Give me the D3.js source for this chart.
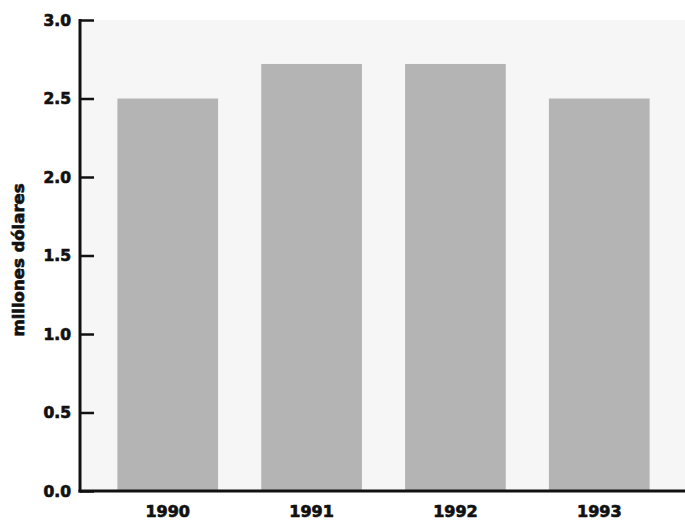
<!DOCTYPE html>
<html>
<head>
<meta charset="utf-8">
<script src="https://cdn.jsdelivr.net/npm/d3@7"></script>
<style>
  body { margin: 0; background: #fff; }
  svg { display: block; }
  text { font-family: "DejaVu Sans", Arial, sans-serif; font-weight: bold; fill: #111; stroke: #111; stroke-width: 0.7px; }
</style>
</head>
<body>
<svg width="685" height="525"></svg>
<script>
var years = ["1990", "1991", "1992", "1993"]
var valores = [2.5, 2.72, 2.72, 2.5]
var yTicks = [0, 0.5, 1.0, 1.5, 2.0, 2.5, 3.0]

var svg = d3.select("svg")
var mLeft = 80, mTop = 20, mBottom = 491, mRight = 687

// fondo gris claro del area
svg.append("rect")
  .attr("x", mLeft).attr("y", mTop)
  .attr("width", 685 - mLeft).attr("height", mBottom - mTop)
  .attr("fill", "#f6f6f6")

var x = d3.scaleBand().domain(years).range([mLeft, mRight])
  .paddingInner(0.3).paddingOuter(0.26)
var y = d3.scaleLinear().domain([0, 3]).range([mBottom, mTop])

svg.append("g").selectAll("rect").data(years)
  .enter().append("rect")
  .attr("x", d => x(d))
  .attr("width", x.bandwidth())
  .attr("y", (d, i) => y(valores[i]))
  .attr("height", (d, i) => mBottom - y(valores[i]))
  .attr("fill", "#b4b4b4")

// eje y
var yAxis = svg.append("g")
  .attr("transform", "translate(" + mLeft + ",0)")
  .call(d3.axisRight(y).tickValues(yTicks).tickSize(14).tickFormat(d3.format(".1f")))
yAxis.select(".domain").remove()
yAxis.selectAll("line").attr("stroke", "#111").attr("stroke-width", 2.5)
yAxis.selectAll("text")
  .attr("x", -9).attr("text-anchor", "end")
  .attr("font-size", 15.5).attr("dy", "0.35em")

svg.append("line")
  .attr("x1", mLeft).attr("x2", mLeft)
  .attr("y1", y(3) - 1).attr("y2", mBottom + 1.5)
  .attr("stroke", "#111").attr("stroke-width", 3)

// eje x
var xAxis = svg.append("g")
  .attr("transform", "translate(0," + mBottom + ")")
  .call(d3.axisBottom(x).tickSize(0).tickPadding(15))
xAxis.select(".domain").remove()
xAxis.selectAll("text").attr("font-size", 16)

svg.append("line")
  .attr("x1", mLeft - 1.5).attr("x2", 685)
  .attr("y1", mBottom).attr("y2", mBottom)
  .attr("stroke", "#111").attr("stroke-width", 3)

svg.append("text")
  .attr("transform", "translate(24,260) rotate(-90)")
  .attr("text-anchor", "middle")
  .attr("font-size", 16.5)
  .text("millones dólares")
</script>
</body>
</html>
